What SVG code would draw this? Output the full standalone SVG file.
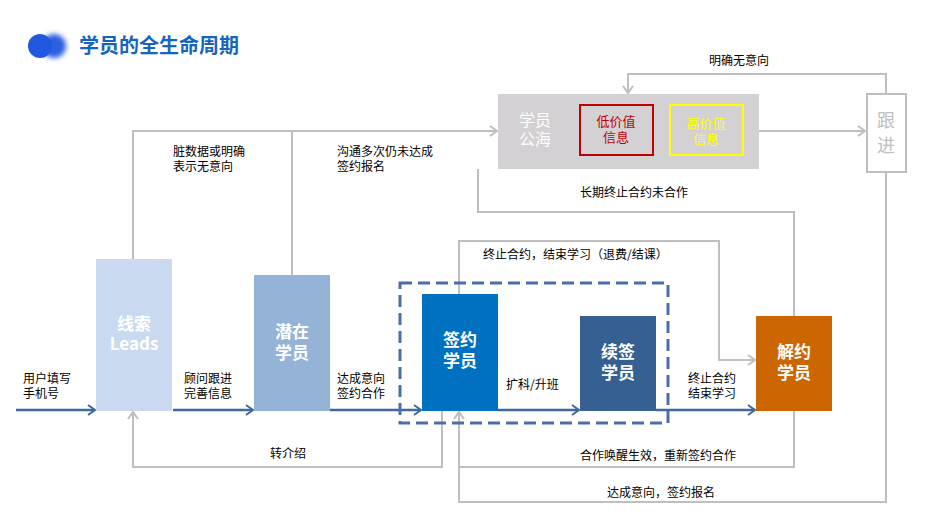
<svg xmlns="http://www.w3.org/2000/svg" width="935" height="521" viewBox="0 0 935 521">
<defs>
<filter id="blur" x="-50%" y="-50%" width="200%" height="200%"><feGaussianBlur stdDeviation="2.5"/></filter>
<marker id="ab" markerWidth="10" markerHeight="12" refX="8" refY="6" orient="auto" markerUnits="userSpaceOnUse"><path d="M1,1 L8,6 L1,11" fill="none" stroke="#41689a" stroke-width="2"/></marker>
<marker id="ag" markerWidth="10" markerHeight="12" refX="8" refY="6" orient="auto" markerUnits="userSpaceOnUse"><path d="M1,1 L8,6 L1,11" fill="none" stroke="#bfbfbf" stroke-width="2"/></marker>
</defs>
<style>
text{font-family:"Noto Sans CJK SC","Liberation Sans",sans-serif;}
.lbl{font-size:12px;fill:#000;}
.node{font-size:17px;font-weight:bold;fill:#fff;text-anchor:middle;}
.blue{fill:none;stroke:#41689a;stroke-width:2.5;}
.grey{fill:none;stroke:#bfbfbf;stroke-width:2;}
</style>
<rect width="935" height="521" fill="#fff"/>
<g id="title">
<circle cx="54" cy="46" r="12" fill="#2a5fe0" filter="url(#blur)"/>
<circle cx="40" cy="46" r="12" fill="#2258e0"/>
<text x="79" y="53" font-size="20" font-weight="bold" fill="#1565c0">学员的全生命周期</text>
</g>
<g id="connectors">
<path class="blue" d="M16,410 L95,410" marker-end="url(#ab)"/>
<path class="blue" d="M173,410 L253,410" marker-end="url(#ab)"/>
<path class="blue" d="M330,410 L421,410" marker-end="url(#ab)"/>
<path class="blue" d="M498,410 L579,410" marker-end="url(#ab)"/>
<path class="blue" d="M656,410 L755,410" marker-end="url(#ab)"/>
<path class="grey" d="M133,259 L133,131 L497,131" marker-end="url(#ag)"/>
<path class="grey" d="M292,275 L292,131"/>
<path class="grey" d="M886,94 L886,74 L628,74 L628,93" marker-end="url(#ag)"/>
<path class="grey" d="M759,131 L865,131" marker-end="url(#ag)"/>
<path class="grey" d="M886,172 L886,502 L459,502 L459,412" marker-end="url(#ag)"/>
<path class="grey" d="M794,411 L794,467 L459,467"/>
<path class="grey" d="M442,411 L442,467 L133,467 L133,412" marker-end="url(#ag)"/>
<path class="grey" d="M459,294 L459,241 L719,241 L719,360 L755,360" marker-end="url(#ag)"/>
<path class="grey" d="M478,169 L478,212 L794,212 L794,316"/>
<text class="lbl" x="23" y="383">用户填写</text>
<text class="lbl" x="23" y="398">手机号</text>
<text class="lbl" x="184" y="383">顾问跟进</text>
<text class="lbl" x="184" y="398">完善信息</text>
<text class="lbl" x="337" y="383">达成意向</text>
<text class="lbl" x="337" y="398">签约合作</text>
<text class="lbl" x="506" y="389">扩科/升班</text>
<text class="lbl" x="688" y="383">终止合约</text>
<text class="lbl" x="688" y="398">结束学习</text>
<text class="lbl" x="173" y="156">脏数据或明确</text>
<text class="lbl" x="173" y="171">表示无意向</text>
<text class="lbl" x="337" y="156">沟通多次仍未达成</text>
<text class="lbl" x="337" y="171">签约报名</text>
<text class="lbl" x="709" y="65">明确无意向</text>
<text class="lbl" x="580" y="197">长期终止合约未合作</text>
<text class="lbl" x="483" y="259">终止合约，结束学习（退费/结课）</text>
<text class="lbl" x="270" y="458">转介绍</text>
<text class="lbl" x="580" y="460">合作唤醒生效，重新签约合作</text>
<text class="lbl" x="607" y="497">达成意向，签约报名</text>
</g>
<g id="dashed-group">
<rect x="400" y="283" width="268" height="140" fill="none" stroke="#4a6fa8" stroke-width="3" stroke-dasharray="12 6"/>
</g>
<g id="leads">
<rect x="96" y="259" width="76" height="152" fill="#c9d9f0"/>
<text class="node" x="134" y="330">线索</text>
<text class="node" x="134" y="350">Leads</text>
</g>
<g id="potential">
<rect x="254" y="275" width="76" height="136" fill="#95b3d7"/>
<text class="node" x="292" y="338">潜在</text>
<text class="node" x="292" y="359">学员</text>
</g>
<g id="signed">
<rect x="422" y="294" width="76" height="117" fill="#0070c0"/>
<text class="node" x="460" y="346">签约</text>
<text class="node" x="460" y="367">学员</text>
</g>
<g id="renewed">
<rect x="580" y="316" width="76" height="95" fill="#366092"/>
<text class="node" x="618" y="358">续签</text>
<text class="node" x="618" y="379">学员</text>
</g>
<g id="terminated">
<rect x="756" y="316" width="76" height="95" fill="#cc6600"/>
<text class="node" x="794" y="358">解约</text>
<text class="node" x="794" y="379">学员</text>
</g>
<g id="pool">
<rect x="498" y="94" width="261" height="75" fill="#d3d1d3"/>
<text x="535" y="126" font-size="16" fill="#fff" text-anchor="middle">学员</text>
<text x="535" y="145" font-size="16" fill="#fff" text-anchor="middle">公海</text>
</g>
<g id="low-value">
<rect x="580" y="105" width="73" height="50" fill="none" stroke="#c00000" stroke-width="2"/>
<text x="616" y="126" font-size="13" fill="#c00000" text-anchor="middle">低价值</text>
<text x="616" y="142" font-size="13" fill="#c00000" text-anchor="middle">信息</text>
</g>
<g id="high-value">
<rect x="670" y="105" width="73" height="50" fill="none" stroke="#ffff00" stroke-width="2"/>
<text x="706" y="128" font-size="13" fill="#ffff00" text-anchor="middle">高价值</text>
<text x="706" y="144" font-size="13" fill="#ffff00" text-anchor="middle">信息</text>
</g>
<g id="follow-up">
<rect x="867" y="94" width="39" height="78" fill="#fff" stroke="#bfbfbf" stroke-width="2"/>
<text x="886" y="127" font-size="18" fill="#bfbfbf" text-anchor="middle">跟</text>
<text x="886" y="152" font-size="18" fill="#bfbfbf" text-anchor="middle">进</text>
</g>
</svg>
